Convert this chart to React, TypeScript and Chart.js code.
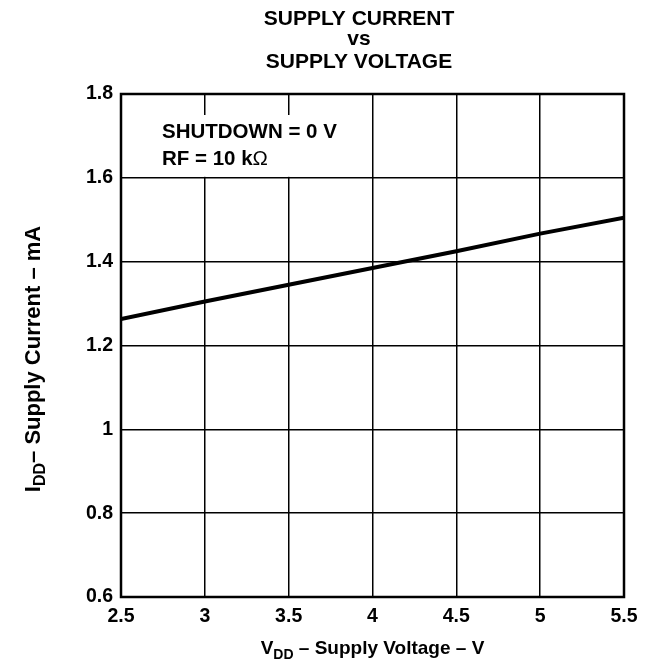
import React, { useEffect, useRef } from "react";
import { Chart, registerables } from "chart.js";

Chart.register(...registerables);

// ---- data ----
const vddVolts = [2.5, 3, 3.5, 4, 4.5, 5, 5.5];
const iddMilliamps = [1.263, 1.305, 1.345, 1.385, 1.425, 1.467, 1.505];
const xTickValues = [2.5, 3, 3.5, 4, 4.5, 5, 5.5];
const yTickLabels = ["0.6", "0.8", "1", "1.2", "1.4", "1.6", "1.8"];
const titleLines = ["SUPPLY CURRENT", "vs", "SUPPLY VOLTAGE"];
const legendLines = ["SHUTDOWN = 0 V", "RF = 10 k"];
const legendOhm = "\u03A9";
const xTitleParts = ["V", "DD", " \u2013 Supply Voltage \u2013 V"];
const yTitleParts = ["I", "DD", "\u2013 Supply Current \u2013 mA"];

const FAMILY = '"Liberation Sans", Arial, Helvetica, sans-serif';
const bold = (s: number) => `bold ${s}px ${FAMILY}`;

function drawSubText(
  ctx: CanvasRenderingContext2D,
  parts: string[],
  cx: number,
  base: number,
  bigSize: number,
  smallSize: number
) {
  const big = bold(bigSize);
  const small = bold(smallSize);
  ctx.font = big;
  const w0 = ctx.measureText(parts[0]).width;
  const w2 = ctx.measureText(parts[2]).width;
  ctx.font = small;
  const w1 = ctx.measureText(parts[1]).width;
  const total = w0 + w1 + w2;
  let x = cx - total / 2;
  ctx.textAlign = "left";
  ctx.textBaseline = "alphabetic";
  ctx.font = big;
  ctx.fillText(parts[0], x, base);
  x += w0;
  ctx.font = small;
  ctx.fillText(parts[1], x, base + 5);
  x += w1;
  ctx.font = big;
  ctx.fillText(parts[2], x, base);
}

const overlayPlugin = {
  id: "overlay",
  beforeDatasetsDraw(chart: any) {
    const { ctx, chartArea: a, scales } = chart;
    const xs = scales.x;
    const ys = scales.y;
    ctx.save();
    // white legend box over grid
    const bx0 = a.left + 2;
    const bx1 = xs.getPixelForValue(4) - 1;
    const by0 = a.top + 21;
    const by1 = ys.getPixelForValue(1.6) - 1;
    ctx.fillStyle = "#fff";
    ctx.fillRect(bx0, by0, bx1 - bx0, by1 - by0);
    // frame
    ctx.strokeStyle = "#000";
    ctx.lineWidth = 2.5;
    ctx.strokeRect(a.left, a.top, a.right - a.left, a.bottom - a.top);
    // legend text
    ctx.fillStyle = "#000";
    ctx.textAlign = "left";
    ctx.textBaseline = "alphabetic";
    ctx.font = bold(20.5);
    ctx.fillText(legendLines[0], a.left + 41, a.top + 44);
    ctx.fillText(legendLines[1], a.left + 41, a.top + 71);
    const w = ctx.measureText(legendLines[1]).width;
    ctx.font = `20.5px ${FAMILY}`;
    ctx.fillText(legendOhm, a.left + 41 + w, a.top + 71);
    ctx.restore();
  },
  afterDraw(chart: any) {
    const { ctx, chartArea: a } = chart;
    ctx.save();
    ctx.fillStyle = "#000";
    // title
    ctx.textAlign = "center";
    ctx.textBaseline = "alphabetic";
    ctx.font = bold(21);
    const tx = 359;
    ctx.fillText(titleLines[0], tx, 25);
    ctx.fillText(titleLines[1], tx, 45);
    ctx.fillText(titleLines[2], tx, 68);
    // x axis title
    drawSubText(ctx, xTitleParts, (a.left + a.right) / 2, 654, 19, 14);
    // y axis title (rotated)
    ctx.translate(40, 359);
    ctx.rotate(-Math.PI / 2);
    drawSubText(ctx, yTitleParts, 0, 0, 22, 16);
    ctx.restore();
  },
};

export default function App() {
  const canvasRef = useRef<HTMLCanvasElement | null>(null);

  useEffect(() => {
    document.body.style.margin = "0";
    const canvas = canvasRef.current;
    if (!canvas) return;
    const tickFont = { family: FAMILY, size: 19.5, weight: "bold" as const };
    const chart = new Chart(canvas, {
      type: "line",
      data: {
        datasets: [
          {
            data: vddVolts.map((v, i) => ({ x: v, y: iddMilliamps[i] })),
            borderColor: "#000",
            borderWidth: 4,
            pointRadius: 0,
            tension: 0,
            fill: false,
          },
        ],
      },
      options: {
        animation: false,
        responsive: false,
        devicePixelRatio: 1,
        layout: { padding: { top: 94, right: 30, left: 0, bottom: 0 } },
        plugins: {
          legend: { display: false },
          tooltip: { enabled: false },
          title: { display: false },
        },
        scales: {
          x: {
            type: "linear",
            min: 2.5,
            max: 5.5,
            afterBuildTicks: (s: any) => {
              s.ticks = xTickValues.map((v) => ({ value: v }));
            },
            afterFit: (s: any) => {
              s.height = 64;
            },
            ticks: {
              font: tickFont,
              color: "#000",
              padding: 8,
              maxRotation: 0,
              autoSkip: false,
              callback: (v: any) => String(v),
            },
            grid: { color: "#000", lineWidth: 1.5, drawTicks: false },
            border: { display: false },
          },
          y: {
            type: "linear",
            min: 0.6,
            max: 1.8,
            afterBuildTicks: (s: any) => {
              s.ticks = yTickLabels.map((l) => ({ value: parseFloat(l) }));
            },
            afterFit: (s: any) => {
              s.width = 121;
            },
            ticks: {
              font: tickFont,
              color: "#000",
              padding: 8,
              autoSkip: false,
              callback: (v: any) => {
                const idx = yTickLabels.findIndex((l) => Math.abs(parseFloat(l) - v) < 1e-6);
                return idx >= 0 ? yTickLabels[idx] : "";
              },
            },
            grid: { color: "#000", lineWidth: 1.5, drawTicks: false },
            border: { display: false },
          },
        },
      },
      plugins: [overlayPlugin],
    } as any);
    return () => chart.destroy();
  }, []);

  return (
    <div style={{ width: 654, height: 661 }}>
      <canvas ref={canvasRef} width={654} height={661} style={{ display: "block" }} />
    </div>
  );
}
